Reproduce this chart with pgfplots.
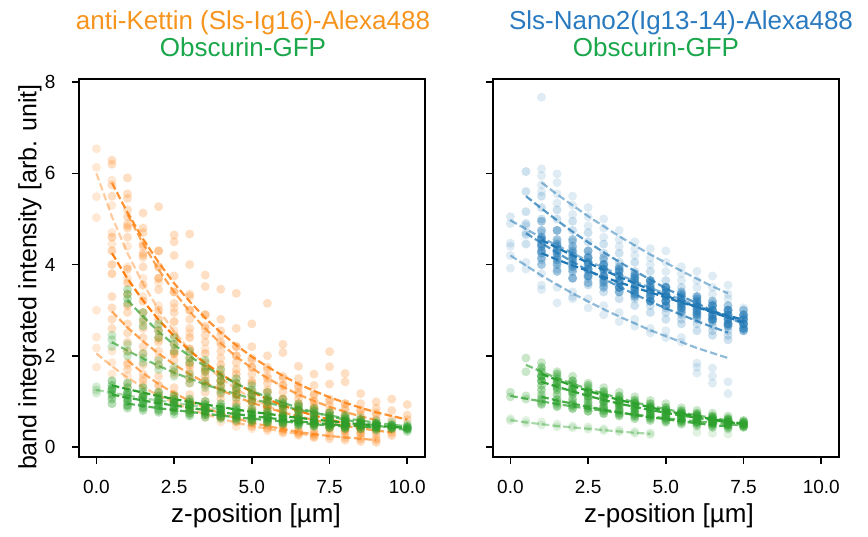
\documentclass[border=0pt]{standalone}
\usepackage{pgfplots}
\pgfplotsset{compat=1.18}
\usepackage{fontspec}
\setmainfont{Liberation Sans}
\definecolor{tabor}{RGB}{255,127,14}
\definecolor{tabgr}{RGB}{44,160,44}
\definecolor{tabbl}{RGB}{31,119,180}
\definecolor{titor}{RGB}{247,148,29}
\definecolor{titgr}{RGB}{26,166,74}
\definecolor{titbl}{RGB}{42,122,192}
\pgfplotsset{
 pts/.style 2 args={only marks, mark=*, mark size=4.5pt, color=#1, mark options={draw opacity=0, line width=0pt, fill=#1, fill opacity=#2}},
 fitl/.style 2 args={no marks, color=#1, draw opacity=#2, line width=2.2pt, dash pattern=on 7.4pt off 3.2pt},
 myax/.style={width=346pt, height=378pt, scale only axis,
  xmin=-0.56, xmax=10.57, ymin=-0.22, ymax=8.07,
  xtick={0,2.5,5,7.5,10}, xticklabels={0.0,2.5,5.0,7.5,10.0}, ytick={0,2,4,6,8},
  tick label style={font=\fontsize{19}{22}\selectfont, black},
  xticklabel style={yshift=-13pt}, yticklabel style={xshift=-13pt},
  /pgf/number format/assume math mode=true,
  tick align=outside, xtick pos=left, ytick pos=left, major tick length=7pt,
  tick style={black, line width=1.6pt}, axis line style={black, line width=1.6pt},
  clip=true}
}
\begin{document}
\begin{tikzpicture}
\path[use as bounding box] (-79pt,-79pt) rectangle (789pt,457pt);
\begin{axis}[myax, name=L, at={(0pt,0pt)}, anchor=south west]
% ---------- orange points ----------
\addplot[pts={tabor}{0.18}] coordinates {(0,6.54)(0,6.13)(0,5.49)(0,5.03)(0.5,5.85)(0.5,5.30)(0.5,4.70)(0.5,4.45)(1,4.90)(1,4.40)(1,3.95)(1,3.70)(1.5,4.15)(1.5,3.70)(1.5,3.30)(2,3.60)(2,3.10)(2,2.65)(2,2.35)(2.5,3.05)(2.5,2.55)(2.5,2.10)(3,2.50)(3,2.15)(3,1.75)(3,1.55)(3.5,2.15)(3.5,1.70)(3.5,1.40)(4,1.70)(4,1.45)(4,1.15)(4.5,1.50)(4.5,1.20)(4.5,0.95)(5,1.25)(5,1.00)(5,0.80)(5.5,1.05)(5.5,0.85)(5.5,0.65)(6,0.90)(6,0.70)(6,0.50)};
\addplot[pts={tabor}{0.25}] coordinates {(0.5,6.29)(0.5,6.20)(0.5,5.75)(0.5,5.50)(1,5.90)(1,5.55)(1,5.20)(1,4.85)(1.5,5.13)(1.5,4.70)(1.5,4.40)(1.5,4.25)(2,5.27)(2,4.30)(2,3.95)(2,3.70)(2.5,4.65)(2.5,4.50)(2.5,4.20)(2.5,3.40)(3,4.67)(3,4.00)(3,3.35)(3,3.00)(3.5,3.77)(3.5,3.52)(3.5,2.90)(3.5,2.60)(4,3.46)(4,2.80)(4,2.45)(4,2.25)(4.5,3.37)(4.5,2.60)(4.5,2.20)(4.5,2.00)(5,2.70)(5,2.20)(5,1.90)(5,1.75)(5.5,3.15)(5.5,2.00)(5.5,1.70)(5.5,1.50)(6,2.25)(6,2.07)(6,1.55)(6,1.35)(6.5,1.77)(6.5,1.50)(6.5,1.30)(6.5,1.15)(7,1.60)(7,1.35)(7,1.15)(7,1.00)(7.5,2.09)(7.5,1.76)(7.5,1.38)(7.5,1.05)(8,1.61)(8,1.43)(8,0.95)(8,0.85)(8.5,1.17)(8.5,0.95)(8.5,0.80)(9,0.99)(9,0.85)(9,0.70)(9.5,1.05)(9.5,0.80)(9.5,0.60)(10,0.93)(10,0.70)(10,0.60)};
\addplot[pts={tabor}{0.25}] coordinates {(1,5.45)(1,5.05)(1,4.80)(1,4.60)(1.5,4.80)(1.5,4.45)(1.5,4.20)(1.5,3.95)(2,4.30)(2,3.95)(2,3.70)(2,3.45)(2.5,3.75)(2.5,3.40)(2.5,3.15)(2.5,2.95)(3,3.30)(3,3.00)(3,2.80)(3,2.60)(3.5,2.90)(3.5,2.65)(3.5,2.45)(3.5,2.30)(4,2.55)(4,2.30)(4,2.10)(4,1.95)(4.5,2.20)(4.5,2.00)(4.5,1.85)(4.5,1.70)(5,1.95)(5,1.75)(5,1.60)(5,1.45)(5.5,1.75)(5.5,1.55)(5.5,1.40)(5.5,1.25)(6,1.50)(6,1.35)(6,1.20)(6,1.05)(6.5,1.35)(6.5,1.20)(6.5,1.05)(6.5,0.90)(7,1.15)(7,1.00)(7,0.90)(7,0.80)(7.5,1.00)(7.5,0.90)(7.5,0.80)(7.5,0.65)(8,0.95)(8,0.80)(8,0.70)(8,0.55)(8.5,0.80)(8.5,0.70)(8.5,0.60)(8.5,0.50)(9,0.75)(9,0.60)(9,0.50)(9,0.45)};
\addplot[pts={tabor}{0.32}] coordinates {(0.5,4.60)(0.5,4.30)(0.5,4.00)(0.5,3.80)(1,3.90)(1,3.60)(1,3.35)(1,3.10)(1.5,3.55)(1.5,3.20)(1.5,2.95)(1.5,2.75)(2,3.00)(2,2.80)(2,2.55)(2,2.40)(2.5,2.75)(2.5,2.45)(2.5,2.25)(2.5,2.05)(3,2.40)(3,2.15)(3,1.95)(3,1.80)(3.5,2.05)(3.5,1.85)(3.5,1.70)(3.5,1.55)(4,1.80)(4,1.60)(4,1.45)(4,1.35)(4.5,1.60)(4.5,1.40)(4.5,1.25)(4.5,1.15)(5,1.40)(5,1.20)(5,1.10)(5,1.00)(5.5,1.20)(5.5,1.05)(5.5,0.95)(5.5,0.85)(6,1.05)(6,0.90)(6,0.80)(6,0.70)(6.5,0.95)(6.5,0.80)(6.5,0.70)(6.5,0.60)(7,0.85)(7,0.70)(7,0.60)(7,0.50)(7.5,0.75)(7.5,0.60)(7.5,0.50)(7.5,0.40)(8,0.65)(8,0.55)(8,0.45)(8,0.35)(8.5,0.55)(8.5,0.45)(8.5,0.40)(8.5,0.30)};
\addplot[pts={tabor}{0.25}] coordinates {(0.5,3.30)(0.5,3.05)(0.5,2.80)(0.5,2.60)(1,2.95)(1,2.70)(1,2.50)(1,2.30)(1.5,2.60)(1.5,2.40)(1.5,2.20)(1.5,2.05)(2,2.30)(2,2.10)(2,1.95)(2,1.80)(2.5,2.05)(2.5,1.90)(2.5,1.70)(2.5,1.60)(3,1.85)(3,1.65)(3,1.50)(3,1.40)(3.5,1.65)(3.5,1.45)(3.5,1.35)(3.5,1.20)(4,1.45)(4,1.30)(4,1.20)(4,1.05)(4.5,1.30)(4.5,1.15)(4.5,1.05)(4.5,0.95)(5,1.15)(5,1.00)(5,0.90)(5,0.80)(5.5,1.00)(5.5,0.90)(5.5,0.80)(5.5,0.70)(6,0.90)(6,0.80)(6,0.70)(6,0.60)(6.5,0.80)(6.5,0.70)(6.5,0.60)(6.5,0.55)(7,0.70)(7,0.62)(7,0.55)(7,0.48)(7.5,0.62)(7.5,0.55)(7.5,0.48)(7.5,0.42)(8,0.55)(8,0.48)(8,0.42)(8,0.36)(8.5,0.50)(8.5,0.44)(8.5,0.38)(8.5,0.32)(9,0.45)(9,0.40)(9,0.34)(9,0.28)(9.5,0.40)(9.5,0.35)(9.5,0.30)(9.5,0.25)};
\addplot[pts={tabor}{0.18}] coordinates {(0,3.00)(0,2.41)(0,2.17)(0,1.75)(0.5,2.10)(0.5,1.85)(0.5,1.60)(1,1.80)(1,1.55)(1,1.35)(1.5,1.50)(1.5,1.35)(1.5,1.15)(2,1.35)(2,1.15)(2,1.00)(2.5,1.15)(2.5,1.00)(2.5,0.85)(3,1.00)(3,0.85)(3,0.75)(3.5,0.85)(3.5,0.75)(3.5,0.65)(4,0.75)(4,0.65)(4,0.55)(4.5,0.65)(4.5,0.55)(4.5,0.45)(5,0.55)(5,0.48)(5,0.40)(5.5,0.50)(5.5,0.42)(5.5,0.35)(6,0.42)(6,0.36)(6,0.30)(6.5,0.36)(6.5,0.30)(6.5,0.25)(7,0.30)(7,0.25)(7,0.20)};
\addplot[pts={tabor}{0.25}] coordinates {(1,2.10)(1,1.85)(1,1.70)(1.5,1.80)(1.5,1.60)(1.5,1.45)(2,1.55)(2,1.35)(2,1.20)(2.5,1.30)(2.5,1.15)(2.5,1.05)(3,1.15)(3,1.00)(3,0.90)(3.5,1.00)(3.5,0.85)(3.5,0.75)(4,0.85)(4,0.75)(4,0.65)(4.5,0.75)(4.5,0.65)(4.5,0.55)(5,0.65)(5,0.55)(5,0.45)(5.5,0.55)(5.5,0.48)(5.5,0.40)(6,0.48)(6,0.40)(6,0.33)(6.5,0.40)(6.5,0.33)(6.5,0.28)(7,0.35)(7,0.28)(7,0.22)(7.5,0.30)(7.5,0.24)(7.5,0.18)(8,0.26)(8,0.20)(8,0.15)(8.5,0.22)(8.5,0.17)(8.5,0.12)(9,0.19)(9,0.15)(9,0.10)};
% ---------- green points ----------
\addplot[pts={tabgr}{0.3}] coordinates {(1,3.45)(1,3.35)(1,3.25)(1,3.15)(1.5,2.95)(1.5,2.80)(1.5,2.65)(2,2.70)(2,2.55)(2,2.40)(2.5,2.40)(2.5,2.25)(2.5,2.10)(3,2.10)(3,1.95)(3,1.85)(3.5,1.90)(3.5,1.75)(3.5,1.65)(4,1.70)(4,1.55)(4,1.45)(4.5,1.50)(4.5,1.40)(4.5,1.30)(5,1.35)(5,1.25)(5,1.15)(5.5,1.20)(5.5,1.10)(5.5,1.00)(6,1.05)(6,0.95)(6,0.90)(6.5,0.95)(6.5,0.88)(6.5,0.80)(7,0.85)(7,0.78)(7,0.72)(7.5,0.75)(7.5,0.68)(7.5,0.62)(8,0.68)(8,0.62)(8,0.55)(8.5,0.60)(8.5,0.54)(8.5,0.50)(9,0.52)(9,0.48)(9,0.44)(9.5,0.47)(9.5,0.43)(9.5,0.40)(10,0.42)(10,0.38)(10,0.34)};
\addplot[pts={tabgr}{0.25}] coordinates {(0.5,2.45)(0.5,2.35)(0.5,2.20)(1,2.25)(1,2.10)(1,2.00)(1.5,2.05)(1.5,1.95)(1.5,1.85)(2,1.90)(2,1.80)(2,1.70)(2.5,1.75)(2.5,1.65)(2.5,1.55)(3,1.60)(3,1.50)(3,1.40)(3.5,1.45)(3.5,1.38)(3.5,1.30)(4,1.35)(4,1.25)(4,1.18)(4.5,1.25)(4.5,1.15)(4.5,1.08)(5,1.15)(5,1.05)(5,0.98)(5.5,1.05)(5.5,0.98)(5.5,0.90)(6,0.97)(6,0.90)(6,0.83)(6.5,0.90)(6.5,0.82)(6.5,0.76)(7,0.82)(7,0.75)(7,0.70)(7.5,0.75)(7.5,0.69)(7.5,0.64)(8,0.69)(8,0.63)(8,0.58)(8.5,0.64)(8.5,0.58)(8.5,0.53)(9,0.58)(9,0.53)(9,0.49)(9.5,0.54)(9.5,0.49)(9.5,0.45)(10,0.50)(10,0.45)(10,0.41)};
\addplot[pts={tabgr}{0.2}] coordinates {(0,1.32)(0,1.25)(0,1.18)(0.5,1.25)(0.5,1.18)(0.5,1.10)(1,1.20)(1,1.12)(1,1.05)(1.5,1.12)(1.5,1.05)(1.5,0.98)(2,1.08)(2,1.00)(2,0.95)(2.5,1.02)(2.5,0.96)(2.5,0.90)(3,0.98)(3,0.92)(3,0.86)(3.5,0.92)(3.5,0.87)(3.5,0.82)(4,0.88)(4,0.83)(4,0.78)};
\addplot[pts={tabgr}{0.4}] coordinates {(0.5,1.45)(0.5,1.35)(0.5,1.28)(1,1.40)(1,1.30)(1,1.20)(1.5,1.30)(1.5,1.20)(1.5,1.12)(2,1.20)(2,1.12)(2,1.05)(2.5,1.12)(2.5,1.05)(2.5,0.98)(3,1.05)(3,0.98)(3,0.92)(3.5,1.00)(3.5,0.93)(3.5,0.87)(4,0.95)(4,0.88)(4,0.82)(4.5,0.88)(4.5,0.83)(4.5,0.77)(5,0.83)(5,0.77)(5,0.72)(5.5,0.78)(5.5,0.73)(5.5,0.68)(6,0.73)(6,0.68)(6,0.64)(6.5,0.69)(6.5,0.64)(6.5,0.60)(7,0.65)(7,0.60)(7,0.56)(7.5,0.61)(7.5,0.57)(7.5,0.53)(8,0.57)(8,0.53)(8,0.50)(8.5,0.54)(8.5,0.50)(8.5,0.46)(9,0.51)(9,0.47)(9,0.44)(9.5,0.48)(9.5,0.44)(9.5,0.41)(10,0.45)(10,0.42)(10,0.39)};
\addplot[pts={tabgr}{0.35}] coordinates {(0.5,1.25)(0.5,1.15)(0.5,1.05)(0.5,0.95)(1,1.15)(1,1.08)(1,1.00)(1,0.90)(1.5,1.10)(1.5,1.02)(1.5,0.95)(1.5,0.85)(2,1.02)(2,0.96)(2,0.90)(2,0.80)(2.5,0.98)(2.5,0.91)(2.5,0.85)(2.5,0.78)(3,0.92)(3,0.86)(3,0.80)(3,0.72)(3.5,0.87)(3.5,0.81)(3.5,0.76)(3.5,0.70)(4,0.82)(4,0.76)(4,0.72)(4,0.66)(4.5,0.78)(4.5,0.72)(4.5,0.68)(4.5,0.62)(5,0.73)(5,0.68)(5,0.64)(5,0.58)(5.5,0.69)(5.5,0.64)(5.5,0.60)(5.5,0.55)(6,0.65)(6,0.60)(6,0.56)(6,0.52)(6.5,0.61)(6.5,0.56)(6.5,0.53)(6.5,0.49)(7,0.58)(7,0.53)(7,0.50)(7,0.46)(7.5,0.55)(7.5,0.50)(7.5,0.47)(7.5,0.43)(8,0.52)(8,0.47)(8,0.45)(8,0.41)(8.5,0.49)(8.5,0.45)(8.5,0.42)(8.5,0.39)(9,0.46)(9,0.42)(9,0.40)(9,0.37)};
\addplot[pts={tabgr}{0.3}] coordinates {(1,1.00)(1,0.92)(1,0.85)(1.5,0.95)(1.5,0.88)(1.5,0.80)(2,0.90)(2,0.83)(2,0.76)(2.5,0.85)(2.5,0.79)(2.5,0.72)(3,0.81)(3,0.75)(3,0.68)(3.5,0.77)(3.5,0.71)(3.5,0.65)(4,0.73)(4,0.67)(4,0.62)(4.5,0.69)(4.5,0.64)(4.5,0.58)(5,0.65)(5,0.60)(5,0.55)(5.5,0.62)(5.5,0.57)(5.5,0.52)(6,0.59)(6,0.54)(6,0.50)(6.5,0.56)(6.5,0.52)(6.5,0.47)(7,0.53)(7,0.49)(7,0.45)(7.5,0.50)(7.5,0.46)(7.5,0.42)(8,0.48)(8,0.44)(8,0.40)};
% ---------- fit lines ----------
\addplot[fitl={tabor}{0.4}] coordinates {(0,6.00)(0.5,5.05)(1,4.25)(1.5,3.58)(2,3.01)(2.5,2.53)(3,2.13)(3.5,1.80)(4,1.51)(4.5,1.27)(5,1.07)(5.5,0.90)(6,0.76)};
\addplot[fitl={tabor}{0.85}] coordinates {(0.5,5.79)(1,5.14)(1.5,4.56)(2,4.05)(2.5,3.59)(3,3.19)(3.5,2.83)(4,2.51)(4.5,2.23)(5,1.98)(5.5,1.76)(6,1.56)(6.5,1.38)(7,1.23)(7.5,1.09)(8,0.97)(8.5,0.86)(9,0.76)(9.5,0.68)(10,0.60)};
\addplot[fitl={tabor}{0.7}] coordinates {(1,5.10)(1.5,4.46)(2,3.89)(2.5,3.40)(3,2.97)(3.5,2.60)(4,2.27)(4.5,1.98)(5,1.73)(5.5,1.51)(6,1.32)(6.5,1.15)(7,1.01)(7.5,0.88)(8,0.77)(8.5,0.67)(9,0.59)};
\addplot[fitl={tabor}{1}] coordinates {(0.5,4.25)(1,3.69)(1.5,3.21)(2,2.79)(2.5,2.43)(3,2.11)(3.5,1.84)(4,1.60)(4.5,1.39)(5,1.21)(5.5,1.05)(6,0.91)(6.5,0.79)(7,0.69)(7.5,0.60)(8,0.52)(8.5,0.45)};
\addplot[fitl={tabor}{0.7}] coordinates {(0.5,2.97)(1,2.62)(1.5,2.32)(2,2.05)(2.5,1.81)(3,1.60)(3.5,1.41)(4,1.25)(4.5,1.10)(5,0.97)(5.5,0.86)(6,0.76)(6.5,0.67)(7,0.59)(7.5,0.52)(8,0.46)(8.5,0.41)(9,0.36)(9.5,0.32)};
\addplot[fitl={tabor}{0.45}] coordinates {(0,2.05)(0.5,1.77)(1,1.52)(1.5,1.31)(2,1.13)(2.5,0.97)(3,0.83)(3.5,0.72)(4,0.62)(4.5,0.53)(5,0.46)(5.5,0.40)(6,0.34)(6.5,0.29)(7,0.25)};
\addplot[fitl={tabor}{0.65}] coordinates {(1,1.90)(1.5,1.62)(2,1.38)(2.5,1.18)(3,1.01)(3.5,0.86)(4,0.73)(4.5,0.63)(5,0.53)(5.5,0.46)(6,0.39)(6.5,0.33)(7,0.28)(7.5,0.24)(8,0.21)(8.5,0.18)(9,0.15)};
\addplot[fitl={tabgr}{0.7}] coordinates {(1,3.22)(1.5,2.86)(2,2.53)(2.5,2.24)(3,1.99)(3.5,1.77)(4,1.57)(4.5,1.39)(5,1.23)(5.5,1.09)(6,0.97)(6.5,0.86)(7,0.76)(7.5,0.67)(8,0.60)(8.5,0.53)(9,0.47)(9.5,0.42)(10,0.37)};
\addplot[fitl={tabgr}{0.65}] coordinates {(0.5,2.30)(1,2.11)(1.5,1.94)(2,1.78)(2.5,1.63)(3,1.50)(3.5,1.37)(4,1.26)(4.5,1.16)(5,1.06)(5.5,0.97)(6,0.89)(6.5,0.82)(7,0.75)(7.5,0.69)(8,0.63)(8.5,0.58)(9,0.53)(9.5,0.49)(10,0.45)};
\addplot[fitl={tabgr}{0.4}] coordinates {(0,1.25)(0.5,1.19)(1,1.13)(1.5,1.07)(2,1.02)(2.5,0.97)(3,0.92)(3.5,0.87)(4,0.83)};
\addplot[fitl={tabgr}{1}] coordinates {(0.5,1.35)(1,1.27)(1.5,1.19)(2,1.12)(2.5,1.05)(3,0.99)(3.5,0.93)(4,0.88)(4.5,0.82)(5,0.77)(5.5,0.73)(6,0.68)(6.5,0.64)(7,0.60)(7.5,0.57)(8,0.53)(8.5,0.50)(9,0.47)(9.5,0.44)(10,0.42)};
\addplot[fitl={tabgr}{0.9}] coordinates {(0.5,1.15)(1,1.08)(1.5,1.02)(2,0.96)(2.5,0.91)(3,0.86)(3.5,0.81)(4,0.76)(4.5,0.72)(5,0.68)(5.5,0.64)(6,0.60)(6.5,0.56)(7,0.53)(7.5,0.50)(8,0.47)(8.5,0.45)(9,0.42)};
\addplot[fitl={tabgr}{0.8}] coordinates {(1,0.95)(1.5,0.90)(2,0.85)(2.5,0.81)(3,0.77)(3.5,0.73)(4,0.69)(4.5,0.65)(5,0.62)(5.5,0.59)(6,0.56)(6.5,0.53)(7,0.50)(7.5,0.47)(8,0.45)};
\end{axis}
\begin{axis}[myax, name=R, at={(414pt,0pt)}, anchor=south west, yticklabels={}]
% ---------- blue points ----------
\addplot[pts={tabbl}{0.14}] coordinates {(1,7.67)(1,6.10)(1,5.95)(1,5.75)(1,5.60)(1.5,5.99)(1.5,5.80)(1.5,5.55)(1.5,5.35)(2,5.50)(2,5.30)(2,5.10)(2.5,5.25)(2.5,5.05)(2.5,4.85)(3,5.00)(3,4.80)(3,4.60)(3.5,4.75)(3.5,4.55)(3.5,4.40)(4,4.50)(4,4.35)(4,4.20)(4.5,4.35)(4.5,4.15)(4.5,4.00)(5,4.30)(5,4.05)(5,3.85)(5.5,3.95)(5.5,3.80)(5.5,3.65)(6,3.85)(6,3.65)(6,3.50)(6.5,3.75)(6.5,3.50)(6.5,3.35)(7,3.55)(7,3.35)(7,3.25)(7.5,3.05)};
\addplot[pts={tabbl}{0.22}] coordinates {(0.5,6.04)(0.5,5.60)(0.5,5.16)(1,5.50)(1,5.25)(1,5.00)(1.5,5.20)(1.5,5.00)(1.5,4.75)(2,4.95)(2,4.75)(2,4.50)(2.5,4.70)(2.5,4.50)(2.5,4.30)(3,4.45)(3,4.25)(3,4.10)(3.5,4.25)(3.5,4.05)(3.5,3.90)(4,4.05)(4,3.85)(4,3.70)(4.5,3.85)(4.5,3.65)(4.5,3.50)(5,3.65)(5,3.50)(5,3.35)(5.5,3.50)(5.5,3.30)(5.5,3.15)(6,3.30)(6,3.15)(6,3.00)(6.5,3.15)(6.5,3.00)(6.5,2.85)(7,3.00)(7,2.85)(7,2.70)(7.5,2.85)(7.5,2.70)(7.5,2.55)};
\addplot[pts={tabbl}{0.16}] coordinates {(0,5.05)(0,4.90)(0.5,4.85)(0.5,4.70)(1,4.70)(1,4.55)(1,4.40)(1.5,4.50)(1.5,4.35)(1.5,4.20)(2,4.35)(2,4.20)(2,4.05)(2.5,4.20)(2.5,4.05)(2.5,3.90)(3,4.00)(3,3.90)(3,3.75)(3.5,3.85)(3.5,3.75)(3.5,3.60)(4,3.75)(4,3.60)(4,3.45)(4.5,3.60)(4.5,3.45)(4.5,3.35)(5,3.45)(5,3.35)(5,3.20)(5.5,3.35)(5.5,3.20)(5.5,3.10)(6,3.20)(6,3.10)(6,2.95)(6.5,3.10)(6.5,2.95)(6.5,2.85)(7,2.95)(7,2.85)(7,2.75)(7.5,2.85)(7.5,2.75)(7.5,2.65)};
\addplot[pts={tabbl}{0.4}] coordinates {(1,4.95)(1,4.75)(1,4.55)(1,4.40)(1,4.25)(1.5,4.75)(1.5,4.55)(1.5,4.40)(1.5,4.25)(1.5,4.10)(2,4.55)(2,4.40)(2,4.25)(2,4.10)(2,3.95)(2.5,4.30)(2.5,4.15)(2.5,4.05)(2.5,3.90)(2.5,3.75)(3,4.15)(3,4.00)(3,3.90)(3,3.75)(3,3.60)(3.5,3.95)(3.5,3.85)(3.5,3.75)(3.5,3.60)(3.5,3.50)(4,3.80)(4,3.70)(4,3.60)(4,3.45)(4,3.35)(4.5,3.65)(4.5,3.55)(4.5,3.45)(4.5,3.30)(4.5,3.20)(5,3.50)(5,3.40)(5,3.30)(5,3.20)(5,3.10)(5.5,3.35)(5.5,3.25)(5.5,3.15)(5.5,3.05)(5.5,2.95)(6,3.25)(6,3.15)(6,3.05)(6,2.95)(6,2.85)(6.5,3.10)(6.5,3.00)(6.5,2.90)(6.5,2.80)(6.5,2.75)(7,3.00)(7,2.90)(7,2.80)(7,2.70)(7,2.65)(7.5,2.90)(7.5,2.80)(7.5,2.70)(7.5,2.60)(7.5,2.55)};
\addplot[pts={tabbl}{0.4}] coordinates {(1,4.60)(1,4.45)(1,4.30)(1,4.15)(1,4.00)(1.5,4.45)(1.5,4.30)(1.5,4.15)(1.5,4.00)(1.5,3.85)(2,4.30)(2,4.15)(2,4.00)(2,3.85)(2,3.70)(2.5,4.15)(2.5,4.00)(2.5,3.90)(2.5,3.75)(2.5,3.60)(3,4.00)(3,3.90)(3,3.75)(3,3.65)(3,3.50)(3.5,3.90)(3.5,3.75)(3.5,3.65)(3.5,3.50)(3.5,3.40)(4,3.75)(4,3.65)(4,3.50)(4,3.40)(4,3.30)(4.5,3.65)(4.5,3.50)(4.5,3.40)(4.5,3.30)(4.5,3.20)(5,3.50)(5,3.40)(5,3.30)(5,3.20)(5,3.10)(5.5,3.40)(5.5,3.30)(5.5,3.20)(5.5,3.10)(5.5,3.00)(6,3.30)(6,3.20)(6,3.10)(6,3.00)(6,2.90)(6.5,3.20)(6.5,3.10)(6.5,3.00)(6.5,2.90)(6.5,2.80)(7,3.10)(7,3.00)(7,2.90)(7,2.80)(7,2.70)(7.5,3.00)(7.5,2.90)(7.5,2.80)(7.5,2.70)(7.5,2.60)};
\addplot[pts={tabbl}{0.22}] coordinates {(0.5,4.90)(0.5,4.65)(0.5,4.45)(1,4.60)(1,4.45)(1,4.30)(1,4.10)(1.5,4.40)(1.5,4.25)(1.5,4.05)(1.5,3.90)(2,4.20)(2,4.05)(2,3.90)(2,3.70)(2.5,4.00)(2.5,3.85)(2.5,3.70)(2.5,3.55)(3,3.85)(3,3.70)(3,3.55)(3,3.40)(3.5,3.65)(3.5,3.50)(3.5,3.40)(3.5,3.25)(4,3.50)(4,3.35)(4,3.25)(4,3.10)(4.5,3.35)(4.5,3.20)(4.5,3.10)(4.5,2.95)(5,3.20)(5,3.05)(5,2.95)(5,2.80)(5.5,3.05)(5.5,2.90)(5.5,2.80)(5.5,2.70)(6,2.90)(6,2.80)(6,2.70)(6,2.55)(6.5,2.80)(6.5,2.65)(6.5,2.55)(6.5,2.45)(7,2.65)(7,2.55)(7,2.45)(7,2.35)};
\addplot[pts={tabbl}{0.14}] coordinates {(0,4.47)(0,4.40)(0,4.20)(0,3.92)(0.5,4.05)(0.5,3.90)(1,3.80)(1,3.55)(1,3.45)(1.5,3.50)(1.5,3.16)(2,3.40)(2,3.30)(2,3.25)(2.5,3.25)(2.5,3.05)(3,3.10)(3,2.90)(3.5,2.95)(3.5,2.75)(4,2.80)(4,2.65)(4.5,2.60)(4.5,2.50)(5,2.55)(5,2.40)(5.5,2.40)(5.5,2.30)(6,1.84)(6,1.75)(6,1.62)(6.5,1.73)(6.5,1.55)(6.5,1.40)(7,1.43)(7,1.17)};
% ---------- green points ----------
\addplot[pts={tabgr}{0.25}] coordinates {(0.5,1.95)(0.5,1.65)(1,1.85)(1,1.70)(1,1.55)(1.5,1.65)(1.5,1.55)(1.5,1.45)(2,1.55)(2,1.45)(2,1.35)(2.5,1.40)(2.5,1.30)(2.5,1.20)(3,1.30)(3,1.20)(3,1.10)(3.5,1.20)(3.5,1.10)(3.5,1.00)(4,1.10)(4,1.00)(4,0.92)(4.5,1.02)(4.5,0.93)(4.5,0.85)(5,0.95)(5,0.85)(5,0.78)(5.5,0.86)(5.5,0.78)(5.5,0.72)(6,0.80)(6,0.72)(6,0.66)(6.5,0.74)(6.5,0.66)(6.5,0.60)(7,0.68)(7,0.60)(7,0.55)};
\addplot[pts={tabgr}{0.38}] coordinates {(1,1.75)(1,1.65)(1,1.55)(1,1.45)(1.5,1.60)(1.5,1.50)(1.5,1.40)(1.5,1.30)(2,1.45)(2,1.38)(2,1.28)(2,1.20)(2.5,1.35)(2.5,1.25)(2.5,1.18)(2.5,1.10)(3,1.22)(3,1.15)(3,1.08)(3,1.00)(3.5,1.12)(3.5,1.05)(3.5,0.98)(3.5,0.92)(4,1.03)(4,0.97)(4,0.90)(4,0.84)(4.5,0.95)(4.5,0.88)(4.5,0.83)(4.5,0.77)(5,0.87)(5,0.81)(5,0.76)(5,0.70)(5.5,0.80)(5.5,0.75)(5.5,0.70)(5.5,0.65)(6,0.74)(6,0.69)(6,0.64)(6,0.60)(6.5,0.68)(6.5,0.63)(6.5,0.59)(6.5,0.55)(7,0.63)(7,0.58)(7,0.54)(7,0.50)(7.5,0.58)(7.5,0.54)(7.5,0.50)(7.5,0.46)};
\addplot[pts={tabgr}{0.38}] coordinates {(1,1.55)(1,1.45)(1,1.35)(1,1.25)(1.5,1.42)(1.5,1.33)(1.5,1.25)(1.5,1.15)(2,1.30)(2,1.22)(2,1.15)(2,1.05)(2.5,1.20)(2.5,1.12)(2.5,1.05)(2.5,0.98)(3,1.10)(3,1.03)(3,0.97)(3,0.90)(3.5,1.02)(3.5,0.96)(3.5,0.90)(3.5,0.83)(4,0.95)(4,0.89)(4,0.83)(4,0.77)(4.5,0.88)(4.5,0.82)(4.5,0.77)(4.5,0.71)(5,0.81)(5,0.76)(5,0.71)(5,0.66)(5.5,0.75)(5.5,0.70)(5.5,0.66)(5.5,0.61)(6,0.70)(6,0.65)(6,0.61)(6,0.56)(6.5,0.65)(6.5,0.60)(6.5,0.56)(6.5,0.52)(7,0.60)(7,0.56)(7,0.52)(7,0.48)(7.5,0.55)(7.5,0.52)(7.5,0.48)(7.5,0.44)};
\addplot[pts={tabgr}{0.25}] coordinates {(0,1.20)(0,1.10)(0.5,1.12)(0.5,1.05)(1,1.08)(1,1.00)(1,0.93)(1.5,1.02)(1.5,0.95)(1.5,0.88)(2,0.95)(2,0.90)(2,0.84)(2.5,0.90)(2.5,0.85)(2.5,0.79)(3,0.86)(3,0.80)(3,0.74)(3.5,0.80)(3.5,0.75)(3.5,0.70)(4,0.76)(4,0.71)(4,0.66)(4.5,0.72)(4.5,0.67)(4.5,0.62)(5,0.68)(5,0.63)(5,0.58)(5.5,0.64)(5.5,0.59)(5.5,0.55)(6,0.60)(6,0.56)(6,0.52)(6.5,0.57)(6.5,0.53)(6.5,0.49)(7,0.54)(7,0.50)(7,0.46)(7.5,0.51)(7.5,0.47)(7.5,0.43)};
\addplot[pts={tabgr}{0.14}] coordinates {(0,0.62)(0,0.58)(0.5,0.58)(0.5,0.52)(1,0.55)(1,0.48)(1.5,0.50)(1.5,0.44)(2,0.46)(2,0.42)(2.5,0.44)(2.5,0.39)(3,0.40)(3,0.36)(3.5,0.37)(3.5,0.33)(4,0.34)(4,0.30)(4.5,0.31)(4.5,0.27)(6,0.32)(6.5,0.30)(7,0.28)};
\addplot[pts={tabgr}{0.32}] coordinates {(1,1.15)(1,1.05)(1,0.95)(1.5,1.05)(1.5,0.98)(1.5,0.90)(2,0.98)(2,0.92)(2,0.85)(2.5,0.92)(2.5,0.85)(2.5,0.78)(3,0.85)(3,0.79)(3,0.73)(3.5,0.79)(3.5,0.73)(3.5,0.68)(4,0.73)(4,0.68)(4,0.62)(4.5,0.68)(4.5,0.63)(4.5,0.58)(5,0.63)(5,0.58)(5,0.54)(5.5,0.58)(5.5,0.54)(5.5,0.50)(6,0.54)(6,0.50)(6,0.46)(6.5,0.50)(6.5,0.46)(6.5,0.43)(7,0.47)(7,0.43)(7,0.40)};
% ---------- fit lines ----------
\addplot[fitl={tabbl}{0.5}] coordinates {(1,5.80)(1.5,5.54)(2,5.30)(2.5,5.06)(3,4.84)(3.5,4.62)(4,4.42)(4.5,4.22)(5,4.04)(5.5,3.86)(6,3.69)(6.5,3.52)(7,3.37)};
\addplot[fitl={tabbl}{0.75}] coordinates {(0.5,5.50)(1,5.23)(1.5,4.97)(2,4.72)(2.5,4.49)(3,4.27)(3.5,4.06)(4,3.86)(4.5,3.67)(5,3.48)(5.5,3.31)(6,3.15)(6.5,2.99)(7,2.84)(7.5,2.70)};
\addplot[fitl={tabbl}{0.55}] coordinates {(0,4.97)(0.5,4.78)(1,4.59)(1.5,4.42)(2,4.25)(2.5,4.08)(3,3.93)(3.5,3.78)(4,3.63)(4.5,3.49)(5,3.36)(5.5,3.23)(6,3.10)(6.5,2.98)(7,2.87)(7.5,2.76)};
\addplot[fitl={tabbl}{1}] coordinates {(1,4.54)(1.5,4.37)(2,4.20)(2.5,4.04)(3,3.88)(3.5,3.73)(4,3.59)(4.5,3.45)(5,3.32)(5.5,3.19)(6,3.07)(6.5,2.95)(7,2.84)(7.5,2.73)};
\addplot[fitl={tabbl}{1}] coordinates {(1,4.25)(1.5,4.11)(2,3.98)(2.5,3.86)(3,3.73)(3.5,3.61)(4,3.50)(4.5,3.39)(5,3.28)(5.5,3.17)(6,3.07)(6.5,2.97)(7,2.88)(7.5,2.79)};
\addplot[fitl={tabbl}{0.75}] coordinates {(0.5,4.69)(1,4.47)(1.5,4.26)(2,4.06)(2.5,3.87)(3,3.69)(3.5,3.51)(4,3.35)(4.5,3.19)(5,3.04)(5.5,2.90)(6,2.76)(6.5,2.63)(7,2.51)};
\addplot[fitl={tabbl}{0.5}] coordinates {(0,4.20)(0.5,3.98)(1,3.76)(1.5,3.56)(2,3.37)(2.5,3.19)(3,3.02)(3.5,2.86)(4,2.71)(4.5,2.56)(5,2.43)(5.5,2.30)(6,2.17)(6.5,2.06)(7,1.95)};
\addplot[fitl={tabgr}{0.65}] coordinates {(0.5,1.80)(1,1.65)(1.5,1.51)(2,1.39)(2.5,1.27)(3,1.17)(3.5,1.07)(4,0.98)(4.5,0.90)(5,0.83)(5.5,0.76)(6,0.69)(6.5,0.64)(7,0.58)};
\addplot[fitl={tabgr}{1}] coordinates {(1,1.60)(1.5,1.47)(2,1.34)(2.5,1.23)(3,1.13)(3.5,1.03)(4,0.95)(4.5,0.87)(5,0.79)(5.5,0.73)(6,0.67)(6.5,0.61)(7,0.56)(7.5,0.51)};
\addplot[fitl={tabgr}{0.95}] coordinates {(1,1.43)(1.5,1.32)(2,1.22)(2.5,1.12)(3,1.03)(3.5,0.95)(4,0.88)(4.5,0.81)(5,0.75)(5.5,0.69)(6,0.64)(6.5,0.59)(7,0.54)(7.5,0.50)};
\addplot[fitl={tabgr}{0.7}] coordinates {(0,1.12)(0.5,1.06)(1,1.00)(1.5,0.94)(2,0.89)(2.5,0.84)(3,0.79)(3.5,0.75)(4,0.71)(4.5,0.67)(5,0.63)(5.5,0.59)(6,0.56)(6.5,0.53)(7,0.50)(7.5,0.47)};
\addplot[fitl={tabgr}{0.4}] coordinates {(0,0.59)(0.5,0.54)(1,0.50)(1.5,0.46)(2,0.43)(2.5,0.40)(3,0.37)(3.5,0.34)(4,0.31)(4.5,0.29)};
\addplot[fitl={tabgr}{0.85}] coordinates {(1,1.10)(1.5,1.02)(2,0.95)(2.5,0.88)(3,0.82)(3.5,0.76)(4,0.70)(4.5,0.65)(5,0.61)(5.5,0.56)(6,0.52)(6.5,0.48)(7,0.45)};
\end{axis}
\node[anchor=base, text=titor, font=\fontsize{26}{30}\selectfont] at (174pt,427.5pt) {anti-Kettin (Sls-Ig16)-Alexa488};
\node[anchor=base, text=titgr, font=\fontsize{26}{30}\selectfont] at (164pt,400pt) {Obscurin-GFP};
\node[anchor=base, text=titbl, font=\fontsize{26}{30}\selectfont] at (602pt,427.5pt) {Sls-Nano2(Ig13-14)-Alexa488};
\node[anchor=base, text=titgr, font=\fontsize{26}{30}\selectfont] at (577pt,400pt) {Obscurin-GFP};
\node[anchor=base, font=\fontsize{26}{30}\selectfont] at (177pt,-65pt) {z-position [µm]};
\node[anchor=base, font=\fontsize{26}{30}\selectfont] at (590pt,-65pt) {z-position [µm]};
\node[rotate=90, font=\fontsize{25}{30}\selectfont] at (-49pt,180pt) {band integrated intensity [arb. unit]};
\end{tikzpicture}
\end{document}
